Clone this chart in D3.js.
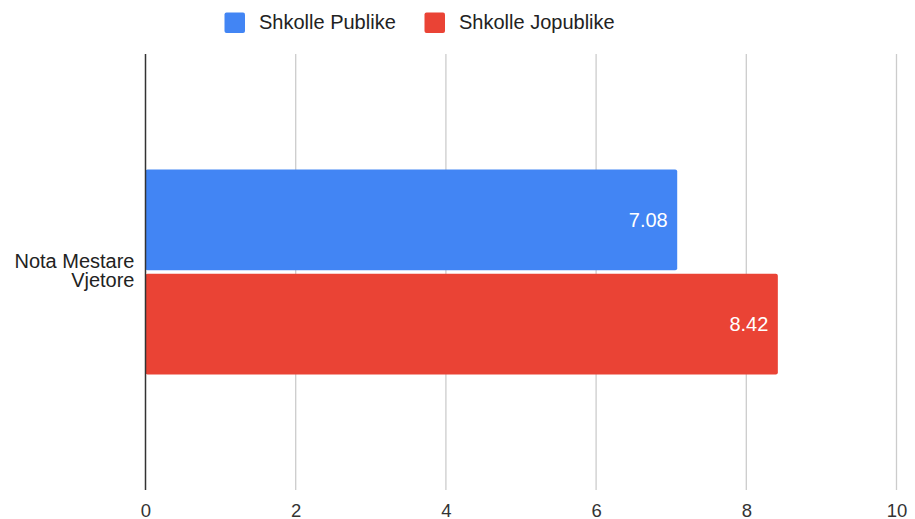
<!DOCTYPE html>
<html><head><meta charset="utf-8">
<script src="https://cdn.jsdelivr.net/npm/d3@7"></script>
<style>body{margin:0;background:#fff}svg{display:block;font-family:"Liberation Sans",Arial,sans-serif}</style>
</head><body><svg id="c" width="915" height="519"></svg>
<script>
const categories = ["Nota Mestare Vjetore"];
const categoryLines = [["Nota Mestare", "Vjetore"]];
const seriesNames = ["Shkolle Publike", "Shkolle Jopublike"];
const seriesColors = ["#4285f4", "#ea4335"];
const publikeValues = [7.08];
const jopublikeValues = [8.42];
const xTicks = [0, 2, 4, 6, 8, 10];

const svg = d3.select("#c");
const W = 915, H = 519;
const m = {left: 145.5, right: 18.5, top: 54, bottom: 29};
const x = d3.scaleLinear().domain([0, 10]).range([m.left, W - m.right]);
const y0 = d3.scaleBand().domain(categories).range([m.top, H - m.bottom]).paddingInner(0).paddingOuter(0.5635);
const y1 = d3.scaleBand().domain(seriesNames).range([0, y0.bandwidth()]).paddingInner(0.035);

// gridlines
svg.append("g").selectAll("line").data(xTicks.filter(d => d !== 0)).join("line")
  .attr("x1", d => x(d)).attr("x2", d => x(d))
  .attr("y1", m.top).attr("y2", H - m.bottom)
  .attr("stroke", "#cccccc").attr("stroke-width", 1.3);

// bars
const data = categories.map((c, i) => ({c, vals: [publikeValues[i], jopublikeValues[i]]}));
const g = svg.append("g");
data.forEach(d => {
  d.vals.forEach((v, j) => {
    const yy = y0(d.c) + y1(seriesNames[j]);
    g.append("rect")
      .attr("x", x(0)).attr("y", yy)
      .attr("width", x(v) - x(0)).attr("height", y1.bandwidth())
      .attr("rx", 2).attr("fill", seriesColors[j]);
    g.append("text")
      .attr("x", x(v) - 9.5).attr("y", yy + y1.bandwidth() / 2)
      .attr("dy", "0.35em").attr("text-anchor", "end")
      .attr("fill", "#ffffff").attr("font-size", 20)
      .text(v.toFixed(2));
  });
});

// zero line
svg.append("line").attr("x1", x(0)).attr("x2", x(0))
  .attr("y1", m.top).attr("y2", H - m.bottom)
  .attr("stroke", "#333333").attr("stroke-width", 1.5);

// x axis labels
const xAxis = d3.axisBottom(x).tickValues(xTicks).tickSize(0).tickPadding(0).tickFormat(d3.format("d"));
const ax = svg.append("g").attr("transform", `translate(0,${H - m.bottom})`).call(xAxis);
ax.select(".domain").remove();
ax.selectAll("text").attr("font-size", 18.5).attr("fill", "#333333").attr("font-family", "'Liberation Sans',Arial,sans-serif")
  .attr("dy", null).attr("y", 27);

// category labels
categories.forEach((c, i) => {
  const cy = y0(c) + y0.bandwidth() / 2;
  const t = svg.append("text").attr("text-anchor", "end").attr("fill", "#222222").attr("font-size", 20);
  const lines = categoryLines[i];
  lines.forEach((ln, k) => {
    t.append("tspan").attr("x", 134.5).attr("y", cy + (k - (lines.length - 1) / 2) * 18.6 + 5.5).text(ln);
  });
});

// legend
const legendX = [224.5, 424.5];
const lg = svg.append("g");
seriesNames.forEach((s, j) => {
  lg.append("rect").attr("x", legendX[j]).attr("y", 12.5).attr("width", 20.5).attr("height", 20.5)
    .attr("rx", 2).attr("fill", seriesColors[j]);
  lg.append("text").attr("x", legendX[j] + 34.5).attr("y", 28.5).attr("font-size", 20)
    .attr("fill", "#222222").text(s);
});
</script></body></html>
